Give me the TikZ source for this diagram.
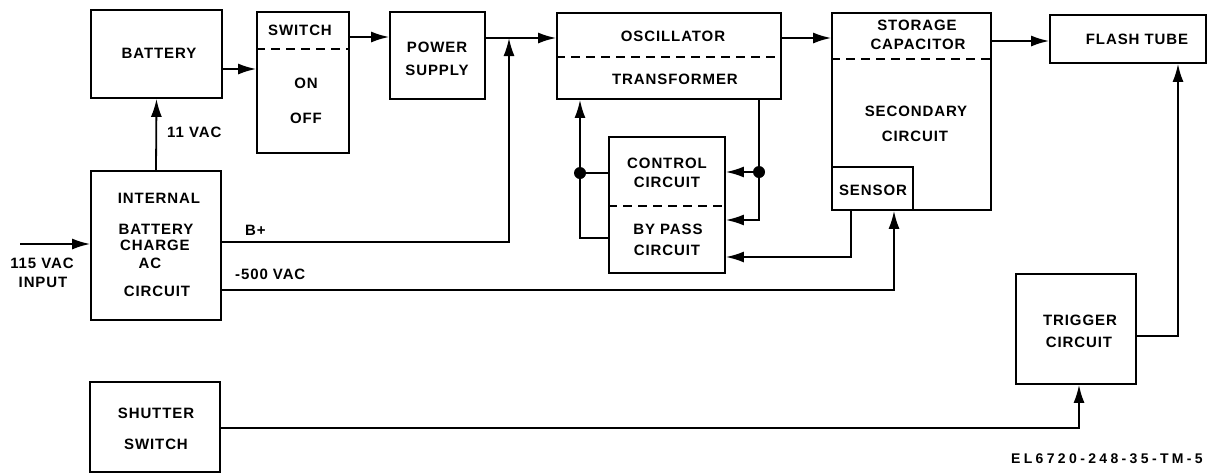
\documentclass[tikz,border=0pt]{standalone}
\usepackage{fontspec}
\setmainfont{Liberation Sans}
\newfontfamily\lblfamily{Liberation Sans}[LetterSpace=6]
\newfontfamily\ftrfamily{Liberation Sans}[LetterSpace=24]
\newcommand\lblfont{\lblfamily\bfseries\fontsize{15}{17}\selectfont}
\newcommand\ftrfont{\ftrfamily\bfseries\fontsize{14}{16}\selectfont}
\usetikzlibrary{arrows.meta}
\tikzset{
  blk/.style={draw, line width=1.8pt, inner sep=0pt},
  lbl/.style={font=\lblfont, inner sep=0pt},
  wire/.style={line width=1.8pt},
  arr/.style={wire, -{Latex[length=18pt,width=11pt]}},
  sep/.style={line width=1.6pt, dash pattern=on 9pt off 6pt},
  jdot/.style={circle, fill, inner sep=0pt, minimum size=12pt}
}
\begin{document}
\begin{tikzpicture}[x=1pt,y=-1pt]
\useasboundingbox (0,0) rectangle (1208,475);
% ---------- boxes
\node[blk, minimum width=131, minimum height=88]  (bat)    at (156.5,54)  {};
\node[blk, minimum width=92,  minimum height=141] (sw)     at (303,82.5)  {};
\node[blk, minimum width=95,  minimum height=87]  (ps)     at (437.5,55.5){};
\node[blk, minimum width=224, minimum height=86]  (osc)    at (669,56)    {};
\node[blk, minimum width=116, minimum height=136] (ctl)    at (667,205)   {};
\node[blk, minimum width=159, minimum height=197] (stor)   at (911.5,111.5){};
\node[blk, minimum width=81,  minimum height=43]  (sensor) at (872.5,188.5){};
\node[blk, minimum width=156, minimum height=48]  (flash)  at (1128,39)   {};
\node[blk, minimum width=130, minimum height=149] (int)    at (156,245.5) {};
\node[blk, minimum width=120, minimum height=110] (trig)   at (1076,329)  {};
\node[blk, minimum width=130, minimum height=90]  (shut)   at (155,427)   {};
% ---------- dashed dividers
\draw[sep] ([yshift=-38pt]sw.north west)   -- ([yshift=-38pt]sw.north east);
\draw[sep] ([yshift=-45pt]osc.north west)  -- ([yshift=-45pt]osc.north east);
\draw[sep] ([yshift=-70pt]ctl.north west)  -- ([yshift=-70pt]ctl.north east);
\draw[sep] ([yshift=-47pt]stor.north west) -- ([yshift=-47pt]stor.north east);
% ---------- texts
\node[lbl] (tbat)  at (159,53)  {BATTERY};
\node[lbl] (tsw1)  at (300,30)  {SWITCH};
\node[lbl] (tsw2)  at (306,83)  {ON};
\node[lbl] (tsw3)  at (306,118) {OFF};
\node[lbl] (tps1)  at (437,47)  {POWER};
\node[lbl] (tps2)  at (437,70)  {SUPPLY};
\node[lbl] (tosc1) at (673,36)  {OSCILLATOR};
\node[lbl] (tosc2) at (675,79)  {TRANSFORMER};
\node[lbl] (tctl1) at (667,163) {CONTROL};
\node[lbl] (tctl2) at (667,182) {CIRCUIT};
\node[lbl] (tctl3) at (668,229) {BY PASS};
\node[lbl] (tctl4) at (667,250) {CIRCUIT};
\node[lbl] (tst1)  at (917,25)  {STORAGE};
\node[lbl] (tst2)  at (918,44)  {CAPACITOR};
\node[lbl] (tst3)  at (916,111) {SECONDARY};
\node[lbl] (tst4)  at (915,136) {CIRCUIT};
\node[lbl] (tsen)  at (873,190) {SENSOR};
\node[lbl] (tfl)   at (1137,39) {FLASH TUBE};
\node[lbl] (tin1)  at (159,198) {INTERNAL};
\node[lbl] (tin2)  at (156,229) {BATTERY};
\node[lbl] (tin3)  at (155,245) {CHARGE};
\node[lbl] (tin4)  at (150,263) {AC};
\node[lbl] (tin5)  at (157,291) {CIRCUIT};
\node[lbl] (ttr1)  at (1080,320){TRIGGER};
\node[lbl] (ttr2)  at (1079,342){CIRCUIT};
\node[lbl] (tsh1)  at (156,413) {SHUTTER};
\node[lbl] (tsh2)  at (156,444) {SWITCH};
\node[lbl, anchor=west] (l11)  at (167,132) {11 VAC};
\node[lbl, anchor=west] (lbp)  at (245,230) {B+};
\node[lbl, anchor=west] (l500) at (235,274) {-500 VAC};
\node[lbl] (lin1) at (42,263) {115 VAC};
\node[lbl] (lin2) at (43,282) {INPUT};
\node[font=\ftrfont, inner sep=0pt, anchor=east] (ftr) at (1203,459) {EL6720-248-35-TM-5};
% ---------- connectors
\coordinate (a1) at ([yshift=-15pt]bat.east);
\draw[arr] (a1) -- (a1 -| sw.west);
\coordinate (a2) at ([yshift=45.5pt]sw.east);
\draw[arr] (a2) -- (a2 -| ps.west);
\coordinate (a3) at ([yshift=17.5pt]ps.east);
\draw[arr] (a3) -- (a3 -| osc.west);
\coordinate (a5) at ([yshift=18pt]osc.east);
\draw[arr] (a5) -- (a5 -| stor.west);
\coordinate (a6) at ([yshift=70.5pt]stor.east);
\draw[arr] (a6) -- (a6 -| flash.west);
\draw[arr] (int.north) -- (bat.south);
\coordinate (in) at (20,244);
\draw[arr] (in) -- (in -| int.west);
% B+
\coordinate (b1) at ([yshift=3.5pt]int.east);
\coordinate (bj) at (509,38);
\draw[arr] (b1) -- (b1 -| bj) -- (bj);
% -500 VAC
\coordinate (c1) at ([yshift=-44.5pt]int.east);
\coordinate (sx) at (894,290);
\draw[arr] (c1) -- (c1 -| sx) -- (sx |- sensor.south);
% sensor to bypass
\coordinate (sy) at (851,257);
\draw[arr] (sy |- sensor.south) -- (sy) -- (sy -| ctl.east);
% left loop
\coordinate (lx) at (580,238);
\draw[arr] (lx -| ctl.west) -- (lx) -- (lx |- osc.south);
\coordinate (ld) at (580,173);
\draw[wire] (ld) -- (ld -| ctl.west);
\node[jdot] (d1) at (ld) {};
% right loop
\coordinate (rx) at (759,220);
\draw[arr] (rx |- osc.south) -- (rx) -- (rx -| ctl.east);
\coordinate (rd) at (759,172);
\draw[arr] (rd) -- (rd -| ctl.east);
\node[jdot] (d2) at (rd) {};
% trigger to flash tube
\coordinate (tx) at (1178,336);
\draw[arr] (tx -| trig.east) -- (tx) -- (tx |- flash.south);
% shutter switch to trigger
\coordinate (ux) at (1079,428);
\draw[arr] (ux -| shut.east) -- (ux) -- (ux |- trig.south);
\end{tikzpicture}
\end{document}
